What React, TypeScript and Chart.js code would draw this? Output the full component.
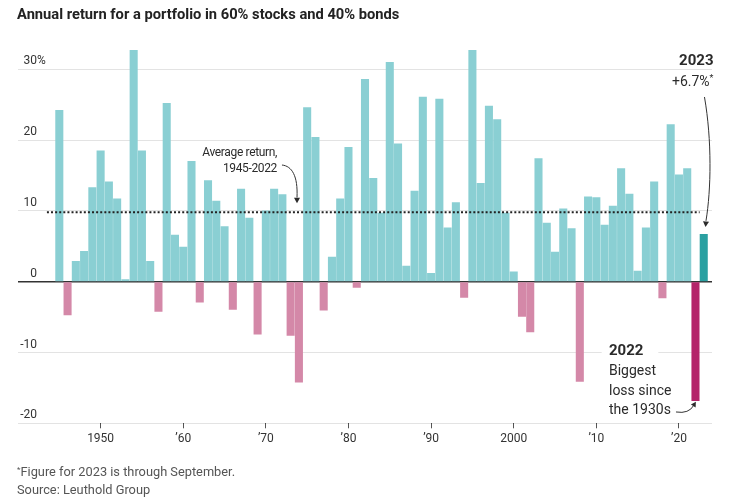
import React, { useEffect, useRef } from 'react';
import { Chart, registerables } from 'chart.js';

Chart.register(...registerables);

const FONT = 'Roboto, "Noto Sans", sans-serif';

// ---- data ----
const years: number[] = [
  1945, 1946, 1947, 1948, 1949, 1950, 1951, 1952, 1953, 1954,
  1955, 1956, 1957, 1958, 1959, 1960, 1961, 1962, 1963, 1964,
  1965, 1966, 1967, 1968, 1969, 1970, 1971, 1972, 1973, 1974,
  1975, 1976, 1977, 1978, 1979, 1980, 1981, 1982, 1983, 1984,
  1985, 1986, 1987, 1988, 1989, 1990, 1991, 1992, 1993, 1994,
  1995, 1996, 1997, 1998, 1999, 2000, 2001, 2002, 2003, 2004,
  2005, 2006, 2007, 2008, 2009, 2010, 2011, 2012, 2013, 2014,
  2015, 2016, 2017, 2018, 2019, 2020, 2021, 2022, 2023,
];

const annualReturns: number[] = [
  24.2, -4.7, 2.9, 4.3, 13.3, 18.5, 14.1, 11.7, 0.3, 32.7,
  18.5, 2.9, -4.2, 25.2, 6.6, 4.9, 17.0, -2.9, 14.3, 11.4,
  7.8, -3.9, 13.1, 9.0, -7.4, 10.0, 13.1, 12.3, -7.6, -14.2,
  24.6, 20.4, -4.0, 3.5, 11.7, 19.0, -0.8, 28.6, 14.6, 9.7,
  31.0, 19.5, 2.2, 12.8, 26.1, 1.2, 25.8, 7.6, 11.2, -2.2,
  32.7, 13.9, 24.8, 22.9, 9.7, 1.4, -4.9, -7.1, 17.4, 8.3,
  4.2, 10.3, 7.5, -14.1, 12.0, 11.9, 8.0, 10.7, 16.0, 12.4,
  1.5, 7.6, 14.1, -2.3, 22.2, 15.1, 16.0, -16.8, 6.7,
];

const averageReturn = 9.8; // 1945-2022
const averageSpan: number[] = [1943.5, 2022.5];

const highlightLossYear = 2022;
const latestYear = 2023;

const yTicks: number[] = [-20, -10, 0, 10, 20, 30];
const yTickLabels: string[] = ['-20', '-10', '0', '10', '20', '30'];
const xTicks: number[] = [1950, 1960, 1970, 1980, 1990, 2000, 2010, 2020];
const xTickLabels: string[] = ['1950', '\u201960', '\u201970', '\u201980', '\u201990', '2000', '\u201910', '\u201920'];

// ---- colours ----
const TEAL = 'rgb(138, 207, 211)';
const PINK = 'rgb(212, 136, 168)';
const DARK_PINK = 'rgb(180, 36, 106)';
const DARK_TEAL = 'rgb(42, 160, 161)';
const TEXT = '#2b2b2b';

function arrowHead(ctx: CanvasRenderingContext2D, fromX: number, fromY: number, tipX: number, tipY: number, size = 5.5) {
  const ang = Math.atan2(tipY - fromY, tipX - fromX);
  const bx = tipX - size * Math.cos(ang);
  const by = tipY - size * Math.sin(ang);
  const w = size * 0.55;
  ctx.beginPath();
  ctx.moveTo(tipX, tipY);
  ctx.lineTo(bx + w * Math.sin(ang), by - w * Math.cos(ang));
  ctx.lineTo(bx - w * Math.sin(ang), by + w * Math.cos(ang));
  ctx.closePath();
  ctx.fill();
}

const annotationPlugin = {
  id: 'annotationPlugin',
  afterDraw(chart: any) {
    const { ctx, chartArea } = chart;
    const xs = chart.scales.x;
    const ys = chart.scales.y;
    const X = (v: number) => xs.getPixelForValue(v);
    const Y = (v: number) => ys.getPixelForValue(v);
    ctx.save();

    // y-axis labels (above grid lines)
    ctx.font = `12px ${FONT}`;
    ctx.fillStyle = '#333';
    ctx.textBaseline = 'alphabetic';
    const labelX = chartArea.left + 19;
    yTicks.forEach((v, i) => {
      const yy = Y(v) - 5;
      ctx.textAlign = 'right';
      ctx.fillText(yTickLabels[i], labelX, yy);
      if (i === yTicks.length - 1) {
        ctx.textAlign = 'left';
        ctx.fillText('%', labelX, yy);
      }
    });

    ctx.fillStyle = TEXT;
    ctx.strokeStyle = '#333';
    ctx.lineWidth = 1;

    // Average return annotation
    ctx.font = `12px ${FONT}`;
    (ctx as any).letterSpacing = '-0.35px';
    ctx.textAlign = 'right';
    ctx.textBaseline = 'middle';
    ctx.fillText('Average return,', X(1971.35), Y(18.15));
    ctx.fillText('1945-2022', X(1971.35), Y(15.88));
    (ctx as any).letterSpacing = '0px';
    ctx.beginPath();
    ctx.moveTo(X(1971.95), Y(16.49));
    ctx.bezierCurveTo(X(1973.16), Y(16.35), X(1973.89), Y(14.94), X(1973.77), Y(11.9));
    ctx.stroke();
    arrowHead(ctx, X(1973.77), Y(12.5), X(1973.77), Y(11.1));

    // 2023 annotation
    const rx = X(2024.18);
    ctx.textAlign = 'right';
    ctx.font = `bold 15px ${FONT}`;
    ctx.fillText('2023', rx, Y(31.1));
    ctx.font = `9px ${FONT}`;
    const starW = ctx.measureText('*').width;
    ctx.textAlign = 'left';
    ctx.fillText('*', rx - starW, Y(28.7));
    ctx.font = `14px ${FONT}`;
    ctx.textAlign = 'right';
    ctx.fillText('+6.7%', rx - starW, Y(28.18));
    ctx.beginPath();
    ctx.moveTo(X(2023.09), Y(26.1));
    ctx.bezierCurveTo(X(2024.0), Y(20.0), X(2023.9), Y(13.0), X(2023.27), Y(8.6));
    ctx.stroke();
    arrowHead(ctx, X(2023.32), Y(9.2), X(2023.22), Y(7.75));

    // 2022 annotation
    ctx.fillStyle = '#fff';
    ctx.fillRect(X(2010.65), Y(-8.5), X(2017.5) - X(2010.65), Y(-11.0) - Y(-8.5));
    ctx.fillStyle = TEXT;
    ctx.textAlign = 'left';
    const lx = X(2011.53);
    ctx.font = `bold 15px ${FONT}`;
    ctx.fillText('2022', lx, Y(-9.8));
    ctx.font = `14px ${FONT}`;
    ctx.fillText('Biggest', lx, Y(-12.71));
    ctx.fillText('loss since', lx, Y(-15.54));
    ctx.fillText('the 1930s', lx, Y(-18.26));
    ctx.beginPath();
    ctx.moveTo(X(2019.64), Y(-18.4));
    ctx.quadraticCurveTo(X(2021.2), Y(-18.7), X(2021.8), Y(-17.45));
    ctx.stroke();
    arrowHead(ctx, X(2021.6), Y(-17.8), X(2022.05), Y(-16.95), 5);

    ctx.restore();
  },
};

export default function App() {
  const canvasRef = useRef<HTMLCanvasElement | null>(null);

  useEffect(() => {
    if (!canvasRef.current) return;
    const barData = years.map((yr, i) => ({ x: yr, y: annualReturns[i] }));
    const chart = new Chart(canvasRef.current, {
      type: 'bar',
      data: {
        datasets: [
          {
            type: 'line',
            label: 'Average return, 1945-2022',
            data: averageSpan.map((yr) => ({ x: yr, y: averageReturn })),
            borderColor: '#222',
            borderWidth: 2,
            borderDash: [2, 2.1],
            borderCapStyle: 'butt',
            pointRadius: 0,
            fill: false,
            order: 0,
          } as any,
          {
            type: 'bar',
            label: 'Annual return',
            data: barData,
            backgroundColor: (c: any) => {
              const yr = years[c.dataIndex];
              const v = annualReturns[c.dataIndex];
              if (yr === highlightLossYear) return DARK_PINK;
              if (yr === latestYear) return DARK_TEAL;
              return v < 0 ? PINK : TEAL;
            },
            borderWidth: 0,
            barThickness: 7.4,
            order: 1,
          } as any,
        ],
      },
      options: {
        animation: false,
        responsive: false,
        maintainAspectRatio: false,
        layout: { padding: { left: 18, right: 35, top: 34, bottom: 47.7 } },
        plugins: {
          legend: { display: false },
          tooltip: { enabled: false },
          title: { display: false },
        },
        scales: {
          x: {
            type: 'linear',
            min: 1940,
            max: 2024,
            offset: false,
            grid: {
              offset: false,
              drawOnChartArea: false,
              drawTicks: true,
              tickLength: 5,
              color: '#555',
            },
            border: { display: false },
            ticks: {
              autoSkip: false,
              maxRotation: 0,
              padding: 3,
              color: '#333',
              font: { family: FONT, size: 12 },
              callback: (v: any) => {
                const i = xTicks.indexOf(Number(v));
                return i >= 0 ? xTickLabels[i] : '';
              },
            },
            afterBuildTicks: (s: any) => {
              s.ticks = xTicks.map((v) => ({ value: v }));
            },
            afterFit: (s: any) => {
              s.height = 30;
            },
          },
          y: {
            min: -20,
            max: 35,
            z: 1,
            grid: {
              drawTicks: false,
              color: (c: any) => (c.tick && c.tick.value === 0 ? '#333' : 'rgba(0,0,0,0.11)'),
              lineWidth: (c: any) => (c.tick && c.tick.value === 0 ? 1.5 : 1),
            },
            border: { display: false },
            ticks: { display: false },
            afterBuildTicks: (s: any) => {
              s.ticks = yTicks.map((v) => ({ value: v }));
            },
            afterFit: (s: any) => {
              s.width = 0;
            },
          },
        },
      } as any,
      plugins: [annotationPlugin],
    });
    return () => chart.destroy();
  }, []);

  return (
    <div style={{ position: 'absolute', left: 0, top: 0, width: 747, height: 501, background: '#fff', fontFamily: FONT }}>
      <canvas ref={canvasRef} width={747} height={501} style={{ position: 'absolute', left: 0, top: 0, width: 747, height: 501 }} />
      <div style={{ position: 'absolute', left: 17, top: 5, fontSize: 14.7, lineHeight: '18px', fontWeight: 700, color: '#222', whiteSpace: 'nowrap' }}>
        Annual return for a portfolio in 60% stocks and 40% bonds
      </div>
      <div style={{ position: 'absolute', left: 17, top: 461, fontSize: 12.8, lineHeight: '18px', color: '#555', whiteSpace: 'nowrap' }}>
        <span style={{ fontSize: 8, verticalAlign: 4 }}>*</span>Figure for 2023 is through September.
        <br />
        Source: Leuthold Group
      </div>
    </div>
  );
}
